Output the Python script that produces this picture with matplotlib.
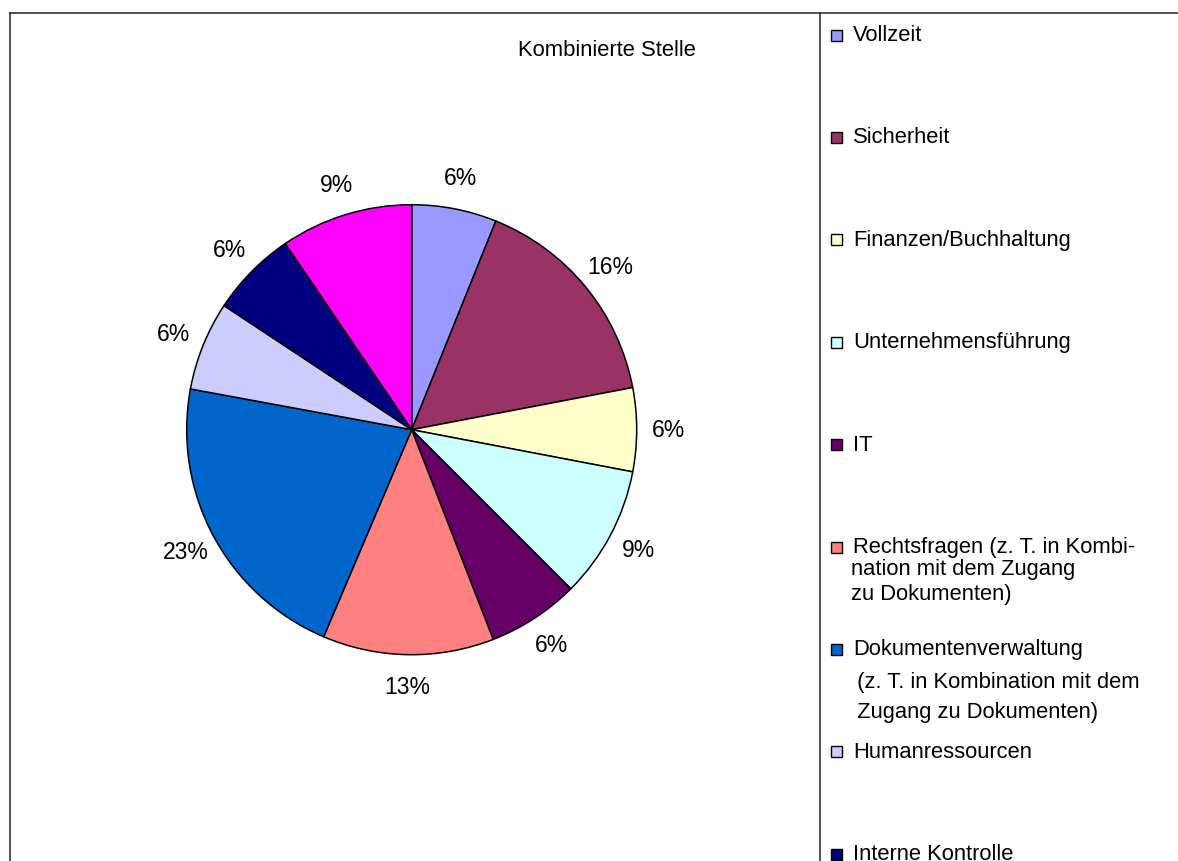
import numpy as np
import matplotlib
matplotlib.use("Agg")
import matplotlib.pyplot as plt
from matplotlib.lines import Line2D
from matplotlib.patches import Rectangle

plt.rcParams["font.family"] = ["Liberation Sans", "DejaVu Sans"]

# slice shares and the printed labels
categories = [
    "Vollzeit", "Sicherheit", "Finanzen/Buchhaltung", "Unternehmensführung",
    "IT", "Rechtsfragen", "Dokumentenverwaltung", "Humanressourcen",
    "Interne Kontrolle", "",  # last entry lies below the visible area
]
values = [6.1, 15.9, 6.0, 9.5, 6.6, 12.3, 21.5, 6.4, 6.2, 9.5]
pct_labels = ["6%", "16%", "6%", "9%", "6%", "13%", "23%", "6%", "6%", "9%"]
colors = ["#9999FF", "#993366", "#FFFFCC", "#CCFFFF", "#660066",
          "#FF8080", "#0066CC", "#CCCCFF", "#000080", "#FF00FF"]

# legend entries that need wrapping, as wrapped in the original
wrapped = {
    "Rechtsfragen": ["Rechtsfragen (z. T. in Kombi-", "nation mit dem Zugang",
                     "zu Dokumenten)"],
    "Dokumentenverwaltung": ["Dokumentenverwaltung",
                             " (z. T. in Kombination mit dem",
                             " Zugang zu Dokumenten)"],
}

W, H = 1178, 862
FS = 15.8

fig = plt.figure(figsize=(W / 100, H / 100), dpi=100)


def px(x, y):
    """pixel coords (top-left origin) -> figure fraction"""
    return x / W, 1 - y / H


# frame lines
for (x0, y0), (x1, y1) in [((10, 14), (W, 14)), ((10, 14), (10, H)), ((820, 14), (820, H))]:
    a, b = px(x0, y0)
    c, d = px(x1, y1)
    fig.add_artist(Line2D([a, c], [b, d], color="#222222", lw=1.1))

# title
tx, ty = px(607, 56)
fig.text(tx, ty, "Kombinierte Stelle", ha="center", va="baseline", fontsize=FS)

# pie
cx, cy, R = 411.7, 430.7, 225
half = 300
l, b = px(cx - half, cy + half)
ax = fig.add_axes([l, b, 2 * half / W, 2 * half / H])

wedges, _ = ax.pie(values, colors=colors, startangle=90, counterclock=False,
                   radius=R, center=(0, 0),
                   wedgeprops=dict(edgecolor="black", linewidth=1.1))
ax.set_xlim(-half, half)
ax.set_ylim(-half, half)
ax.set_aspect("equal")
ax.axis("off")

for w, lab in zip(wedges, pct_labels):
    ang = np.deg2rad((w.theta1 + w.theta2) / 2)
    d = R * 1.14
    ax.text(d * np.cos(ang), d * np.sin(ang), lab, ha="center", va="center",
            fontsize=16.5)

# legend
step = 102.4
for i, (name, col) in enumerate(zip(categories, colors)):
    if not name:
        continue
    yc = 36 + i * step
    sx, sy = px(831, yc + 5.5)
    fig.add_artist(Rectangle((sx, sy), 11 / W, 11 / H, transform=fig.transFigure,
                             facecolor=col, edgecolor="black", lw=1.0))
    lines = wrapped.get(name, [name])
    base = yc + 5
    offsets = [0, 21.6, 46.6] if name == "Rechtsfragen" else [0, 32.4, 62.4]
    for j, line in enumerate(lines):
        x0 = 853 if j == 0 else 851
        lx, ly = px(x0, base + offsets[j])
        fig.text(lx, ly, line, ha="left", va="baseline", fontsize=FS)

fig.savefig("out.png", dpi=100)
